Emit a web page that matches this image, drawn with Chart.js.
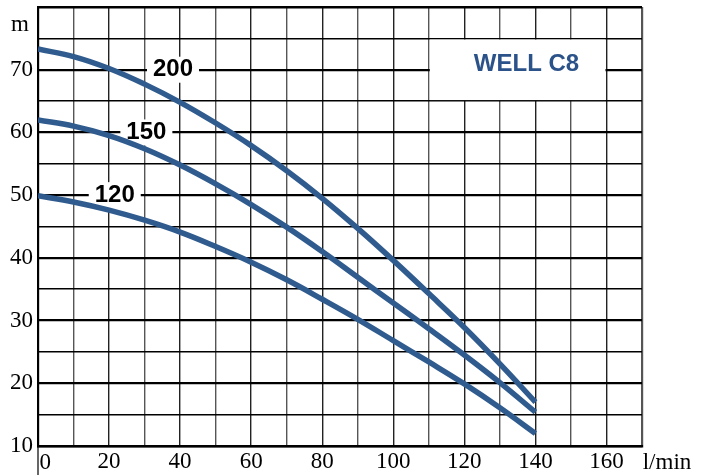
<!DOCTYPE html>
<html>
<head>
<meta charset="utf-8">
<script src="https://cdn.jsdelivr.net/npm/chart.js@4/dist/chart.umd.min.js"></script>
<style>
  html, body { margin: 0; padding: 0; background: #fff; }
  #wrap { width: 712px; height: 475px; }
</style>
</head>
<body>
<div id="wrap"><canvas id="pump"></canvas></div>
<script>
const flow = [0, 10, 20, 30, 40, 50, 60, 70, 80, 90, 100, 110, 120, 130, 140];
const head200 = [73.3, 72.1, 70.2, 67.7, 64.8, 61.5, 57.9, 53.9, 49.5, 44.7, 39.6, 34.3, 28.9, 23.1, 17.0];
const head150 = [62.0, 61.0, 59.5, 57.4, 54.8, 51.8, 48.5, 44.9, 41.0, 36.9, 32.8, 28.7, 24.5, 20.1, 15.4];
const head120 = [49.9, 48.9, 47.6, 46.0, 44.1, 41.8, 39.3, 36.5, 33.4, 30.2, 26.8, 23.4, 19.9, 16.1, 12.0];

const curveNames = ["200", "150", "120"];
const labelSpots = [[38, 70], [30.5, 60], [21.6, 50]];
const title = "WELL C8";

const blue = "#2f5b8e";
const serif = "'Liberation Serif', 'Times New Roman', serif";
const sans = "'Liberation Sans', Arial, sans-serif";

function pts(ys) {
  return flow.map((x, i) => ({ x: x, y: ys[i] }));
}

const extras = {
  id: "extras",
  beforeDatasetsDraw(chart) {
    const c = chart.ctx;
    const xs = chart.scales.x, ys = chart.scales.y;
    c.save();

    // title box
    const bx1 = xs.getPixelForValue(110), bx2 = xs.getPixelForValue(160);
    const by1 = ys.getPixelForValue(75), by2 = ys.getPixelForValue(65);
    c.fillStyle = "#fff";
    c.fillRect(bx1 + 1, by1 + 1.2, bx2 - bx1 - 2, by2 - by1 - 2.2);
    c.fillStyle = "#2b5289";
    c.font = "bold 24px " + sans;
    c.textAlign = "center";
    c.textBaseline = "middle";
    c.fillText(title, xs.getPixelForValue(137.5), ys.getPixelForValue(71) + 1);

    // curve labels
    labelSpots.forEach((p, i) => {
      const px = xs.getPixelForValue(p[0]);
      const py = ys.getPixelForValue(p[1]);
      c.fillStyle = "#fff";
      c.fillRect(px - 26, py - 13, 52, 26);
      c.fillStyle = "#000";
      c.fillText(curveNames[i], px, py);
    });

    // left edge running below the axis
    c.strokeStyle = "#000";
    c.lineWidth = 1.2;
    c.beginPath();
    c.moveTo(xs.left, ys.bottom);
    c.lineTo(xs.left, chart.height);
    c.stroke();

    // axis words
    c.font = "23px " + serif;
    c.textBaseline = "alphabetic";
    c.textAlign = "center";
    c.fillText("m", 20, 31);
    c.fillText("l/min", 667, 469);
    c.textAlign = "left";
    c.fillText("0", xs.left + 1.5, 469);
    c.restore();
  }
};

new Chart(document.getElementById("pump"), {
  type: "line",
  data: {
    datasets: [
      { label: "200", data: pts(head200) },
      { label: "150", data: pts(head150) },
      { label: "120", data: pts(head120) }
    ].map(d => Object.assign(d, {
      borderColor: blue,
      borderWidth: 5.5,
      borderCapStyle: "butt",
      pointRadius: 0,
      tension: 0.4,
      fill: false
    }))
  },
  options: {
    responsive: true,
    maintainAspectRatio: false,
    animation: false,
    layout: { padding: { top: 7, right: 70, left: 0, bottom: 0 } },
    plugins: { legend: { display: false }, tooltip: { enabled: false } },
    scales: {
      x: {
        type: "linear",
        min: 0,
        max: 170,
        afterFit: s => { s.height = 29; s.paddingLeft = 0; s.paddingRight = 0; },
        ticks: {
          stepSize: 10,
          padding: 2,
          autoSkip: false,
          maxRotation: 0,
          minRotation: 0,
          color: "#000",
          font: { family: serif, size: 23 },
          callback: v => (v > 0 && v <= 160 && v % 20 === 0) ? String(v) : ""
        },
        grid: {
          drawTicks: false,
          color: ctx => (ctx.tick && ctx.tick.value % 20 === 10) ? "#555" : "#222",
          lineWidth: ctx => (ctx.tick && (ctx.tick.value === 170 || ctx.tick.value === 0)) ? 2.2 : 1.4
        },
        border: { display: true, color: "#000", width: 2.5 }
      },
      y: {
        min: 10,
        max: 80,
        afterFit: s => { s.width = 38; s.paddingTop = 0; s.paddingBottom = 0; },
        ticks: {
          stepSize: 5,
          padding: 5,
          autoSkip: false,
          color: "#000",
          font: { family: serif, size: 23 },
          callback: v => (v % 10 === 0 && v < 80) ? String(v) : ""
        },
        grid: {
          drawTicks: false,
          color: "#000",
          lineWidth: ctx => {
            const v = ctx.tick ? ctx.tick.value : 0;
            if (v === 80) return 2.5;
            return v % 10 === 0 ? 2.2 : 1.5;
          }
        },
        border: { display: true, color: "#000", width: 2 }
      }
    }
  },
  plugins: [extras]
});
</script>
</body>
</html>
